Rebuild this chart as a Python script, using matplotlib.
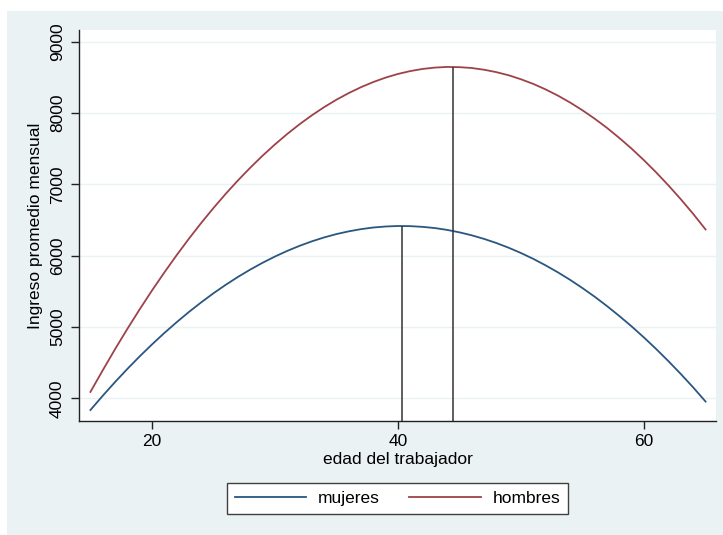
import matplotlib.pyplot as plt
from matplotlib.patches import Rectangle

plt.rcParams['font.family'] = ['Liberation Sans', 'DejaVu Sans']

# edad del trabajador (15 a 65)
edad = list(range(15, 66))
# ingreso promedio mensual
mujeres = [3836, 4036, 4228, 4412, 4588, 4755, 4915, 5066, 5210, 5345,
           5473, 5592, 5703, 5806, 5901, 5988, 6067, 6138, 6201, 6256,
           6303, 6341, 6372, 6395, 6409, 6416, 6414, 6404, 6387, 6361,
           6327, 6285, 6235, 6177, 6111, 6037, 5955, 5864, 5766, 5660,
           5545, 5423, 5292, 5153, 5007, 4852, 4689, 4518, 4339, 4152, 3955]
hombres = [4090, 4393, 4689, 4973, 5247, 5511, 5763, 6005, 6237, 6458,
           6668, 6868, 7057, 7235, 7403, 7560, 7707, 7843, 7968, 8083,
           8187, 8280, 8363, 8435, 8497, 8548, 8588, 8618, 8637, 8646,
           8643, 8631, 8607, 8573, 8529, 8473, 8408, 8331, 8244, 8146,
           8038, 7919, 7790, 7649, 7499, 7337, 7165, 6982, 6789, 6585, 6368]
# edad del maximo y su ingreso
max_edad = [40.3, 44.5]
max_ingreso = [6416, 8646]

navy = '#2a5680'
maroon = '#9e424a'
bg = '#eaf2f3'

fig = plt.figure(figsize=(7.23, 5.35), dpi=100)
fig.patches.append(Rectangle((7 / 723, 0), 1, 1 - 11 / 535, transform=fig.transFigure,
                             facecolor=bg, edgecolor='none', zorder=-10))
ax = fig.add_axes([79 / 723, 1 - 421 / 535, (716 - 79) / 723, (421 - 30) / 535])
ax.set_facecolor('white')

ymin, ymax = 3682, 9164
ax.plot(edad, mujeres, color=navy, lw=1.3, label='mujeres')
ax.plot(edad, hombres, color=maroon, lw=1.3, label='hombres')
ax.vlines(max_edad, ymin, max_ingreso, color='#333333', lw=1.1)

ax.set_xlim(14.07, 65.85)
ax.set_ylim(ymin, ymax)
ax.set_xticks([20, 40, 60])
ax.set_yticks([4000, 5000, 6000, 7000, 8000, 9000])
ax.grid(axis='y', color=bg, lw=1)
ax.set_axisbelow(True)
for s in ['top', 'right']:
    ax.spines[s].set_visible(False)
for s in ['left', 'bottom']:
    ax.spines[s].set_color('#222222')
    ax.spines[s].set_linewidth(1)
ax.tick_params(axis='both', labelsize=12.5, length=6, width=1, colors='#222222',
               labelcolor='black')
ax.tick_params(axis='y', pad=4)
for lbl in ax.get_yticklabels():
    lbl.set_rotation(90)
    lbl.set_va('center')
ax.set_xlabel('edad del trabajador', fontsize=12.5, labelpad=2)
ax.set_ylabel('Ingreso promedio mensual', fontsize=12.5, labelpad=5)

fig.legend(loc='center', bbox_to_anchor=(397.5 / 723, 1 - 498.5 / 535), ncol=2,
           fontsize=12.5, frameon=True, fancybox=False, framealpha=1,
           edgecolor='#404040', handlelength=4.1, handletextpad=0.7,
           columnspacing=1.7, borderpad=0.45)

fig.savefig('out.png', dpi=100)
